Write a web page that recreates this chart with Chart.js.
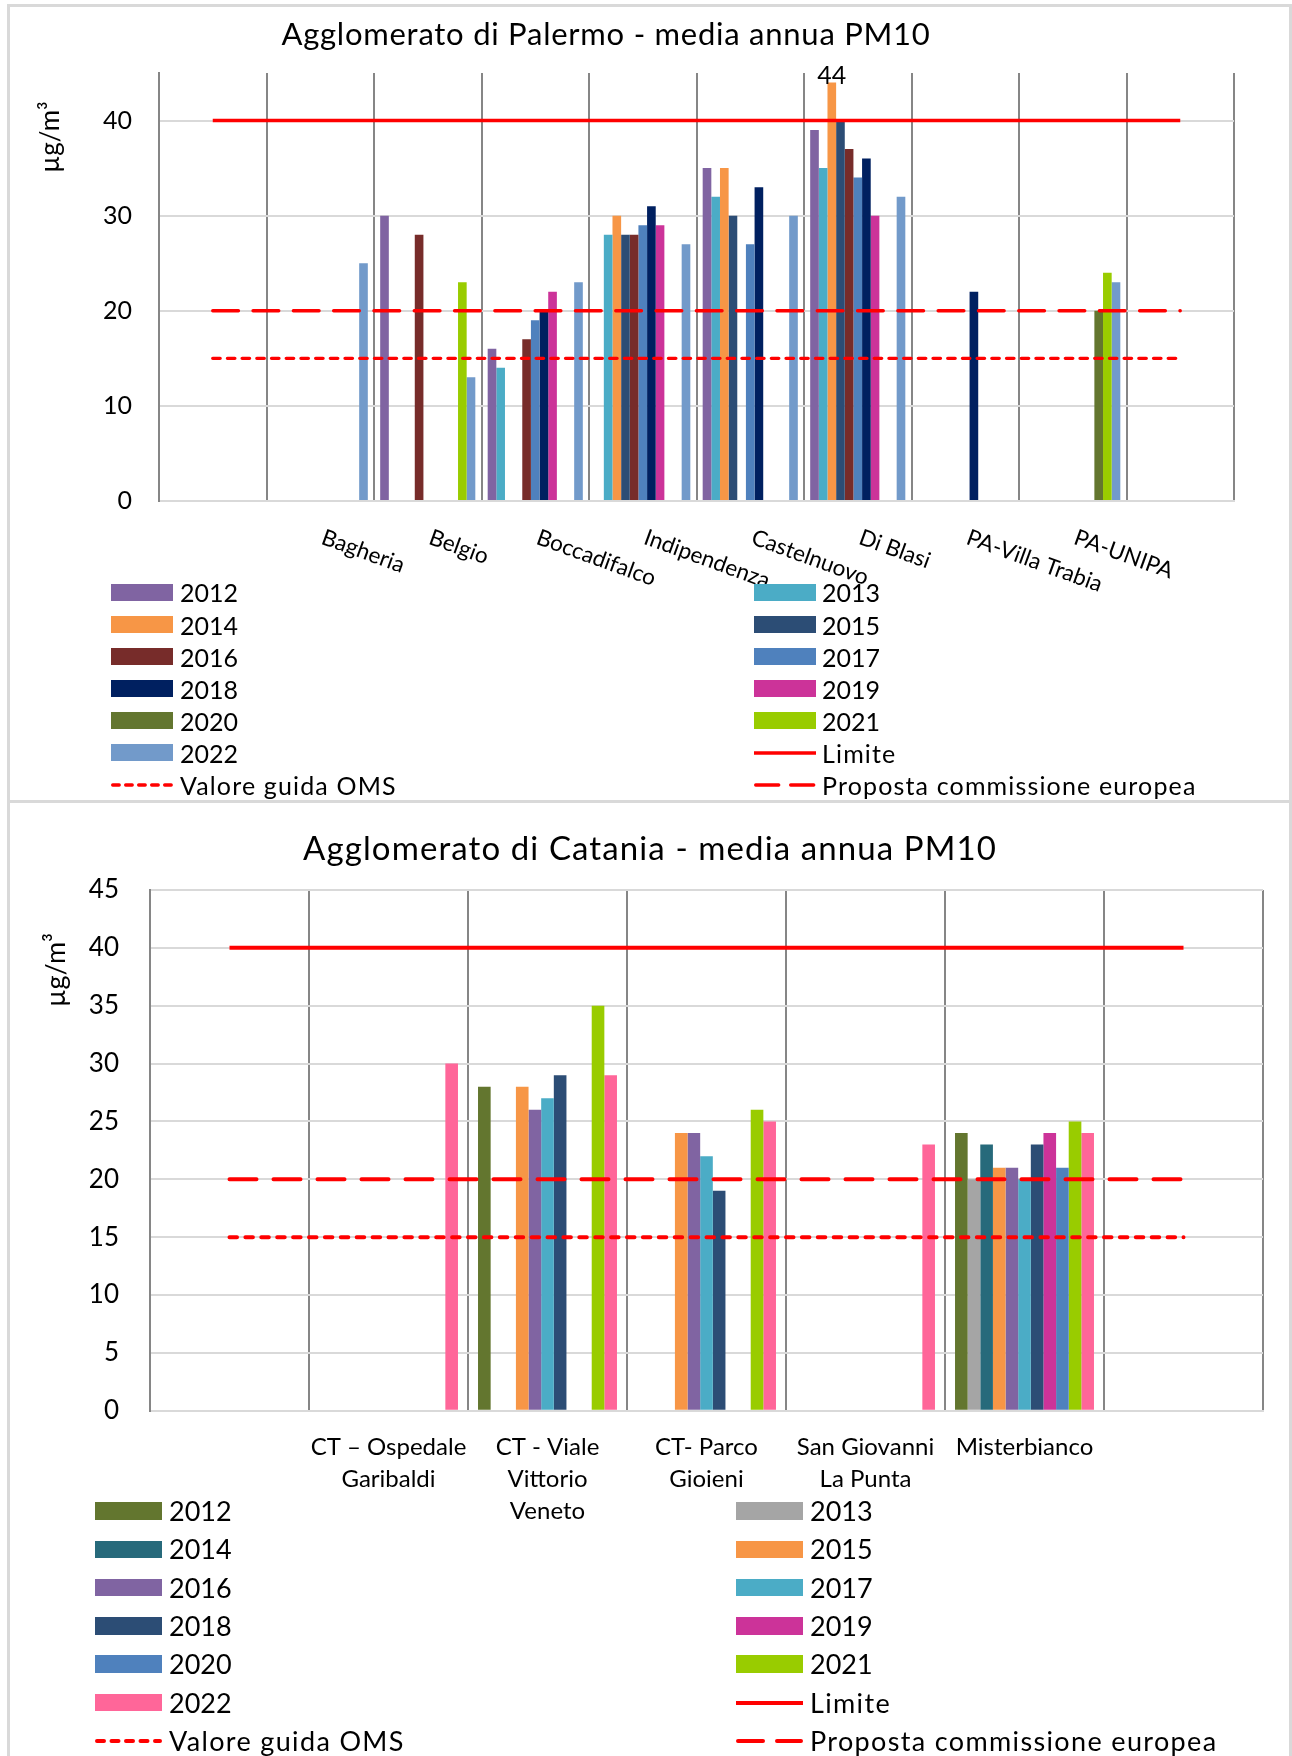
<!DOCTYPE html>
<html lang="it">
<head>
<meta charset="utf-8">
<title>Media annua PM10 - Palermo e Catania</title>
<script src="https://cdn.jsdelivr.net/npm/chart.js@4.4.1/dist/chart.umd.min.js"></script>
<style>
html,body{margin:0;padding:0;background:#fff;}
body{width:1292px;height:1756px;position:relative;overflow:hidden;font-family:Lato,"Open Sans",sans-serif;}
.frame{position:absolute;border:3px solid #d9d9d9;box-sizing:border-box;}
canvas{position:absolute;left:0;}
.lg-text{position:absolute;white-space:nowrap;color:#000;font-family:Lato,sans-serif;}
.lg-sw{position:absolute;}
</style>
</head>
<body>
<div class="frame" style="left:7px;top:4px;width:1285px;height:799px"></div>
<div class="frame" style="left:7px;top:800px;width:1285px;height:990px"></div>
<canvas id="palermo" width="1292" height="801" style="top:0"></canvas>
<canvas id="catania" width="1292" height="955" style="top:801px"></canvas>
<div id="legendPalermo"></div>
<div id="legendCatania"></div>
<script>
// ================= DATA =================
const years = ['2012','2013','2014','2015','2016','2017','2018','2019','2020','2021','2022'];
const referenceNames = ['Limite', 'Valore guida OMS', 'Proposta commissione europea'];

// ---- Agglomerato di Palermo ----
const palermoCategories = ['', 'Bagheria', 'Belgio', 'Boccadifalco', 'Indipendenza', 'Castelnuovo', 'Di Blasi', 'PA-Villa Trabia', 'PA-UNIPA', ''];
const palermo2012 = [null, null, 30, 16, null, 35, 39, null, null, null];
const palermo2013 = [null, null, null, 14, 28, 32, 35, null, null, null];
const palermo2014 = [null, null, null, null, 30, 35, 44, null, null, null];
const palermo2015 = [null, null, null, null, 28, 30, 40, null, null, null];
const palermo2016 = [null, null, 28, 17, 28, null, 37, null, null, null];
const palermo2017 = [null, null, null, 19, 29, 27, 34, null, null, null];
const palermo2018 = [null, null, null, 20, 31, 33, 36, 22, null, null];
const palermo2019 = [null, null, null, 22, 29, null, 30, null, null, null];
const palermo2020 = [null, null, null, null, null, null, null, null, 20, null];
const palermo2021 = [null, null, 23, null, null, null, null, null, 24, null];
const palermo2022 = [null, 25, 13, 23, 27, 30, 32, null, 23, null];
const palermoLimite   = [40, 40, 40, 40, 40, 40, 40, 40, 40, 40];
const palermoOMS      = [15, 15, 15, 15, 15, 15, 15, 15, 15, 15];
const palermoProposta = [20, 20, 20, 20, 20, 20, 20, 20, 20, 20];
const palermoYTicks = [0, 10, 20, 30, 40];
const palermoLabelled = [['2014', 'Di Blasi']];

// ---- Agglomerato di Catania ----
const cataniaCategories = ['', ['CT – Ospedale', 'Garibaldi'], ['CT - Viale', 'Vittorio', 'Veneto'], ['CT- Parco', 'Gioieni'], ['San Giovanni', 'La Punta'], 'Misterbianco', ''];
const catania2012 = [null, null, 28, null, null, 24, null];
const catania2013 = [null, null, null, null, null, 20, null];
const catania2014 = [null, null, null, null, null, 23, null];
const catania2015 = [null, null, 28, 24, null, 21, null];
const catania2016 = [null, null, 26, 24, null, 21, null];
const catania2017 = [null, null, 27, 22, null, 20, null];
const catania2018 = [null, null, 29, 19, null, 23, null];
const catania2019 = [null, null, null, null, null, 24, null];
const catania2020 = [null, null, null, null, null, 21, null];
const catania2021 = [null, null, 35, 26, null, 25, null];
const catania2022 = [null, 30, 29, 25, 23, 24, null];
const cataniaLimite   = [40, 40, 40, 40, 40, 40, 40];
const cataniaOMS      = [15, 15, 15, 15, 15, 15, 15];
const cataniaProposta = [20, 20, 20, 20, 20, 20, 20];
const cataniaYTicks = [0, 5, 10, 15, 20, 25, 30, 35, 40, 45];

// ================= STYLES =================
const palermoColors = ['#8064A2','#4BACC6','#F79646','#2C4D75','#772C2A','#4F81BD','#002060','#CC3399','#63762F','#99CC00','#729ACA'];
const cataniaColors = ['#63762F','#A5A5A5','#276A7B','#F79646','#8064A2','#4BACC6','#2C4D75','#CC3399','#4F81BD','#99CC00','#FF6699'];
const RED = '#FF0000';
const FONT = 'Lato';

Chart.defaults.font.family = FONT;
Chart.defaults.color = '#000';

function buildDatasets(seriesValues, colors, refValues, lineStyle, catPct) {
  const ds = years.map((y, i) => ({
    type: 'bar', label: y, data: seriesValues[i], backgroundColor: colors[i],
    borderWidth: 0, categoryPercentage: catPct, barPercentage: 1, order: 1
  }));
  referenceNames.forEach((name, i) => {
    ds.push({
      type: 'line', label: name, data: refValues[i], borderColor: RED,
      borderWidth: lineStyle.width, borderDash: lineStyle.dash[i], borderCapStyle: i === 0 ? 'butt' : 'round',
      pointRadius: 0, pointHoverRadius: 0, fill: false, tension: 0, order: 0
    });
  });
  return ds;
}

const decor = {
  id: 'decor',
  afterDraw(chart, args, o) {
    const ctx = chart.ctx;
    ctx.save();
    ctx.fillStyle = '#000';
    // title
    ctx.font = o.titleSize + 'px ' + FONT;
    ctx.letterSpacing = o.titleSpacing + 'px';
    ctx.textAlign = 'center'; ctx.textBaseline = 'alphabetic';
    ctx.fillText(o.title, o.titleX, o.titleY);
    ctx.letterSpacing = '0px';
    // y-axis title
    ctx.save();
    ctx.translate(o.yTitleX, o.yTitleY);
    ctx.rotate(-Math.PI / 2);
    ctx.font = o.yTitleSize + 'px ' + FONT;
    ctx.textBaseline = 'middle';
    ctx.fillText(o.yTitle, 0, 0);
    ctx.restore();
    // rotated category labels
    if (o.rotatedLabels) {
      const xs = chart.scales.x;
      ctx.font = o.rotSize + 'px ' + FONT;
      ctx.textAlign = 'left'; ctx.textBaseline = 'top';
      o.rotatedLabels.forEach((lab, i) => {
        if (!lab) return;
        ctx.save();
        ctx.translate(xs.getPixelForValue(i) + o.rotDx, chart.chartArea.bottom + o.rotDy);
        ctx.rotate(o.rotAngle * Math.PI / 180);
        ctx.fillText(lab, 0, 0);
        ctx.restore();
      });
    }
    // data labels
    if (o.labelled) {
      ctx.font = o.dlSize + 'px ' + FONT;
      ctx.textAlign = 'center'; ctx.textBaseline = 'alphabetic';
      o.labelled.forEach(([series, cat]) => {
        const di = chart.data.datasets.findIndex(d => d.label === series);
        const ci = chart.data.labels.indexOf(cat);
        const el = chart.getDatasetMeta(di).data[ci];
        const v = chart.data.datasets[di].data[ci];
        ctx.fillText(String(v), el.x, el.y + o.dlDy);
      });
    }
    ctx.restore();
  }
};

function baseOptions(p) {
  return {
    responsive: false, animation: false, devicePixelRatio: 1,
    layout: { padding: { top: p.top, right: p.right, left: 0, bottom: 0 } },
    plugins: { legend: { display: false }, title: { display: false }, tooltip: { enabled: false }, decor: p.decor },
    scales: {
      x: {
        grid: { color: '#868686', lineWidth: 2, offset: true, drawTicks: false },
        border: { color: '#d9d9d9', width: 2 },
        ticks: p.xTicks,
        afterFit: s => { s.height = p.xHeight; }
      },
      y: {
        min: 0, max: 45,
        afterBuildTicks: s => { s.ticks = p.yTicks.map(v => ({ value: v })); },
        ticks: { font: { size: p.yTickSize }, color: '#000', padding: p.yTickPad },
        grid: { color: '#d9d9d9', lineWidth: 2, drawTicks: false },
        border: { color: '#868686', width: 2 },
        afterFit: s => { s.width = p.yWidth; }
      }
    }
  };
}

// ---- Palermo chart ----
new Chart(document.getElementById('palermo'), {
  type: 'bar',
  data: {
    labels: palermoCategories,
    datasets: buildDatasets(
      [palermo2012, palermo2013, palermo2014, palermo2015, palermo2016, palermo2017, palermo2018, palermo2019, palermo2020, palermo2021, palermo2022],
      palermoColors, [palermoLimite, palermoOMS, palermoProposta],
      { width: 3.4, dash: [[], [7.4, 7.3], [25.7, 14.6]] }, 0.885)
  },
  options: baseOptions({
    top: 73, right: 58, xHeight: 300, yWidth: 159, yTickSize: 25, yTickPad: 27, yTicks: palermoYTicks,
    xTicks: { display: false },
    decor: {
      title: 'Agglomerato di Palermo - media annua PM10', titleX: 606, titleY: 45, titleSize: 31, titleSpacing: 0.75,
      yTitle: 'µg/m³', yTitleX: 51, yTitleY: 137, yTitleSize: 26,
      rotatedLabels: palermoCategories, rotSize: 22.5, rotAngle: 20, rotDx: 6, rotDy: 25,
      labelled: palermoLabelled, dlSize: 25, dlDy: 1
    }
  }),
  plugins: [decor]
});

// ---- Catania chart ----
new Chart(document.getElementById('catania'), {
  type: 'bar',
  data: {
    labels: cataniaCategories,
    datasets: buildDatasets(
      [catania2012, catania2013, catania2014, catania2015, catania2016, catania2017, catania2018, catania2019, catania2020, catania2021, catania2022],
      cataniaColors, [cataniaLimite, cataniaOMS, cataniaProposta],
      { width: 4, dash: [[], [7.5, 8.4], [27, 17]] }, 0.874)
  },
  options: baseOptions({
    top: 89, right: 29, xHeight: 345.3, yWidth: 150, yTickSize: 26, yTickPad: 31, yTicks: cataniaYTicks,
    xTicks: { font: { size: 24, lineHeight: 1.35 }, color: '#000', padding: 20, maxRotation: 0, minRotation: 0, autoSkip: false },
    decor: {
      title: 'Agglomerato di Catania - media annua PM10', titleX: 650, titleY: 59, titleSize: 33, titleSpacing: 1.1,
      yTitle: 'µg/m³', yTitleX: 56, yTitleY: 169, yTitleSize: 27
    }
  }),
  plugins: [decor]
});

// ================= LEGENDS (HTML) =================
function buildLegend(containerId, colors, lineStyle, g) {
  const host = document.getElementById(containerId);
  const names = years.concat(referenceNames);
  names.forEach((name, i) => {
    const row = Math.floor(i / 2), col = i % 2;
    const cy = g.top + row * g.rowH;
    const sx = col ? g.swRight : g.swLeft;
    const tx = col ? g.txRight : g.txLeft;
    let sw;
    if (i < years.length) {
      sw = document.createElement('div');
      sw.className = 'lg-sw';
      sw.style.cssText = `left:${sx}px;top:${cy - g.swH / 2}px;width:${g.swW}px;height:${g.swH}px;background:${colors[i]}`;
    } else {
      const ri = i - years.length;
      sw = document.createElementNS('http://www.w3.org/2000/svg', 'svg');
      sw.setAttribute('class', 'lg-sw');
      sw.setAttribute('width', g.swW); sw.setAttribute('height', 10);
      sw.style.left = sx + 'px'; sw.style.top = (cy - 5) + 'px';
      const ln = document.createElementNS('http://www.w3.org/2000/svg', 'line');
      const cap = ri === 0 ? 0 : lineStyle.width / 2;
      ln.setAttribute('x1', cap); ln.setAttribute('x2', g.swW - cap);
      ln.setAttribute('y1', 5); ln.setAttribute('y2', 5);
      ln.setAttribute('stroke', RED); ln.setAttribute('stroke-width', lineStyle.width);
      if (ri > 0) { ln.setAttribute('stroke-dasharray', g.legendDash[ri].join(' ')); ln.setAttribute('stroke-linecap', 'round'); }
      sw.appendChild(ln);
    }
    host.appendChild(sw);
    const t = document.createElement('div');
    t.className = 'lg-text';
    t.textContent = name;
    const ls = i < years.length ? 0 : g.nameSpacing;
    t.style.cssText = `left:${tx}px;top:${cy - g.lineH / 2}px;height:${g.lineH}px;line-height:${g.lineH}px;font-size:${g.fontSize}px;letter-spacing:${ls}px`;
    host.appendChild(t);
  });
}

buildLegend('legendPalermo', palermoColors, { width: 3.4 }, {
  top: 592.4, rowH: 32.1, swLeft: 111, swRight: 754, txLeft: 180, txRight: 822,
  swW: 62, swH: 17, lineH: 30, fontSize: 25, nameSpacing: 1.15, legendDash: [[], [6.5, 6.5], [23, 12]]
});
buildLegend('legendCatania', cataniaColors, { width: 4 }, {
  top: 1511, rowH: 38.3, swLeft: 95, swRight: 736, txLeft: 169, txRight: 810,
  swW: 67, swH: 17.5, lineH: 34, fontSize: 27, nameSpacing: 1.35, legendDash: [[], [7, 7.5], [25, 14]]
});
</script>
</body>
</html>
